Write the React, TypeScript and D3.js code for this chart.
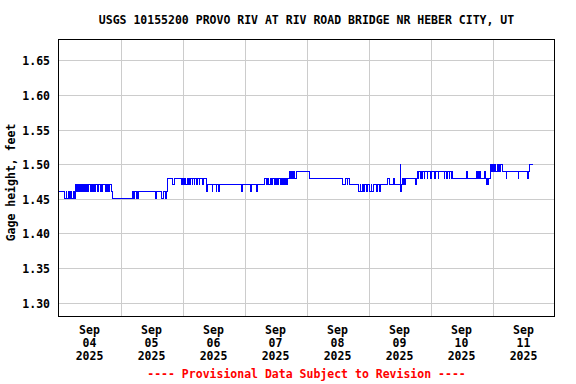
import * as d3 from 'd3'

const title = 'USGS 10155200 PROVO RIV AT RIV ROAD BRIDGE NR HEBER CITY, UT'
const yLabel = 'Gage height, feet'
const footer = '---- Provisional Data Subject to Revision ----'

const startTime = Date.UTC(2025, 8, 4, 0, 0)
const endTime = Date.UTC(2025, 8, 12, 0, 0)
const stepMinutes = 15

const yTicks = [1.3, 1.35, 1.4, 1.45, 1.5, 1.55, 1.6, 1.65]
const xTickDays = ['04', '05', '06', '07', '08', '09', '10', '11']

// gage height as [feet, count of 15-minute readings]
const runsSep04 = [
  [1.46, 9],
  [1.45, 3], [1.46, 1], [1.45, 2], [1.46, 2], [1.45, 2], [1.46, 1], [1.45, 3], [1.46, 1], [1.45, 3],
  [1.47, 1], [1.46, 1], [1.47, 1], [1.46, 1], [1.47, 1], [1.46, 1], [1.47, 1], [1.46, 1], [1.47, 1], [1.46, 1],
  [1.47, 1], [1.46, 1], [1.47, 1], [1.46, 1], [1.47, 1], [1.46, 1], [1.47, 1], [1.46, 1], [1.47, 1], [1.46, 1],
  [1.47, 3], [1.46, 1], [1.47, 2], [1.46, 1], [1.47, 1], [1.46, 2], [1.47, 4], [1.46, 1], [1.47, 3], [1.46, 1],
  [1.47, 1], [1.46, 1], [1.47, 4], [1.46, 1], [1.47, 1], [1.46, 2], [1.47, 2], [1.46, 1], [1.47, 3], [1.46, 1],
  [1.45, 32],
  [1.46, 1], [1.45, 2], [1.46, 2], [1.45, 1], [1.46, 1], [1.45, 2], [1.46, 2],
  [1.46, 24], [1.45, 1], [1.46, 9], [1.45, 2], [1.46, 4], [1.45, 1], [1.46, 2],
]

const runsSep05 = [
  [1.48, 7], [1.47, 3], [1.48, 12],
  [1.47, 1], [1.48, 2], [1.47, 1], [1.48, 2], [1.47, 2], [1.48, 2], [1.47, 1], [1.48, 1], [1.47, 2], [1.48, 2],
  [1.47, 1], [1.48, 2], [1.47, 1], [1.48, 2], [1.47, 2], [1.48, 3], [1.47, 1], [1.48, 4], [1.47, 1], [1.48, 5],
  [1.46, 2], [1.47, 7], [1.46, 1], [1.47, 5], [1.46, 1], [1.47, 3], [1.46, 2], [1.47, 34],
  [1.46, 1], [1.47, 13], [1.46, 1], [1.47, 8], [1.46, 1], [1.47, 11],
]

const runsSep07 = [
  [1.48, 3], [1.47, 2], [1.48, 1], [1.47, 3], [1.48, 2], [1.47, 1], [1.48, 3], [1.47, 1], [1.48, 1], [1.47, 1],
  [1.48, 2], [1.47, 2], [1.48, 2], [1.47, 1], [1.48, 2], [1.47, 1], [1.48, 2], [1.47, 1], [1.48, 1], [1.47, 2],
  [1.48, 1], [1.47, 1], [1.48, 2],
  [1.49, 2], [1.48, 1], [1.49, 2], [1.48, 2], [1.49, 1], [1.48, 3], [1.49, 1],
  [1.49, 19],
  [1.48, 51],
  [1.47, 6], [1.48, 2], [1.47, 1], [1.48, 3], [1.47, 14],
]

const runsSep08 = [
  [1.46, 2], [1.47, 1], [1.46, 2], [1.47, 3], [1.46, 1], [1.47, 3], [1.46, 1], [1.47, 4], [1.46, 2], [1.47, 1], [1.46, 2],
  [1.47, 6], [1.46, 1], [1.47, 3], [1.46, 1], [1.47, 11], [1.48, 3], [1.47, 7], [1.48, 2], [1.47, 8],
  [1.5, 1], [1.46, 1], [1.47, 2], [1.48, 1], [1.47, 1], [1.48, 2], [1.47, 1], [1.48, 1],
  [1.48, 14], [1.47, 2], [1.48, 1],
]

const runsSep09 = [
  [1.49, 1], [1.48, 1], [1.49, 2], [1.48, 2], [1.49, 1], [1.48, 1], [1.49, 2], [1.48, 1],
  [1.49, 4], [1.48, 1], [1.49, 4], [1.48, 1], [1.49, 5], [1.48, 1], [1.49, 5], [1.48, 1], [1.49, 8],
  [1.48, 1], [1.49, 3], [1.48, 1], [1.49, 3], [1.48, 1], [1.49, 2], [1.48, 1], [1.49, 1],
  [1.48, 22], [1.49, 2], [1.48, 13], [1.49, 2], [1.48, 1], [1.49, 1], [1.48, 1], [1.49, 2], [1.48, 1],
  [1.48, 5], [1.49, 1], [1.48, 1], [1.47, 1], [1.48, 1], [1.47, 2], [1.48, 2], [1.48, 1],
  [1.5, 1], [1.49, 1], [1.5, 1], [1.49, 1], [1.5, 2], [1.49, 1], [1.5, 1], [1.49, 2], [1.5, 3], [1.49, 1],
  [1.5, 1], [1.49, 1], [1.5, 3],
  [1.49, 5], [1.48, 1], [1.49, 18], [1.48, 1], [1.49, 13], [1.48, 1], [1.49, 2],
  [1.5, 6],
]

type Pt = { t: Date; v: number }

function expand(): Pt[] {
  const out: Pt[] = []
  let i = 0
  for (const [v, n] of [...runsSep04, ...runsSep05, ...runsSep07, ...runsSep08, ...runsSep09]) {
    for (let k = 0; k < n; k++) {
      out.push({ t: new Date(startTime + i * stepMinutes * 60000), v })
      i++
    }
  }
  // hold the last reading for one interval so it shows
  out.push({ t: new Date(startTime + i * stepMinutes * 60000), v: out[out.length - 1].v })
  return out
}

const W = 576
const H = 384
const margin = { top: 39.5, right: 21.5, bottom: 67.5, left: 58.5 }
const font = "'DejaVu Sans Mono', 'Liberation Mono', monospace"

export default function App() {
  const data = expand()
  const x = d3.scaleUtc().domain([new Date(startTime), new Date(endTime)]).range([margin.left, W - margin.right])
  const y = d3.scaleLinear().domain([1.28, 1.68]).range([H - margin.bottom, margin.top])
  const line = d3
    .line<Pt>()
    .x((d) => x(d.t))
    .y((d) => y(d.v))
    .curve(d3.curveStepAfter)

  const days = d3.utcDay.range(new Date(startTime), new Date(endTime))
  const midX = (margin.left + W - margin.right) / 2
  const fmt = d3.format('.2f')

  return (
    <svg
      width={W}
      height={H}
      style={{ position: 'absolute', left: 0, top: 0, background: '#fff' }}
      fontFamily={font}
      fontWeight="bold"
      fontSize={11.5}
    >
      <rect width={W} height={H} fill="#fff" />
      <text x={midX} y={24} textAnchor="middle" fill="#000">
        {title}
      </text>

      {/* grid */}
      {yTicks.map((v) => (
        <line
          key={v}
          x1={margin.left}
          x2={W - margin.right}
          y1={Math.round(y(v)) + 0.5}
          y2={Math.round(y(v)) + 0.5}
          stroke="#cccccc"
        />
      ))}
      {days.slice(1).map((d) => (
        <line
          key={+d}
          x1={Math.round(x(d)) + 0.5}
          x2={Math.round(x(d)) + 0.5}
          y1={margin.top}
          y2={H - margin.bottom}
          stroke="#cccccc"
        />
      ))}

      <path d={line(data) ?? ''} fill="none" stroke="#0000ff" strokeWidth={1} shapeRendering="crispEdges" />

      <rect
        x={margin.left}
        y={margin.top}
        width={W - margin.right - margin.left}
        height={H - margin.bottom - margin.top}
        fill="none"
        stroke="#000"
      />

      {yTicks.map((v) => (
        <text key={v} x={50} y={Math.round(y(v)) + 4.5} textAnchor="end" fill="#000">
          {fmt(v)}
        </text>
      ))}
      <text transform={`translate(15,182.5) rotate(-90)`} textAnchor="middle" fill="#000">
        {yLabel}
      </text>

      {days.map((d, i) => {
        const cx = x(d3.utcHour.offset(d, 12))
        return (
          <text key={+d} x={cx} textAnchor="middle" fill="#000">
            <tspan x={cx} y={334}>
              {d3.utcFormat('%b')(d)}
            </tspan>
            <tspan x={cx} y={347}>
              {xTickDays[i]}
            </tspan>
            <tspan x={cx} y={360}>
              {d3.utcFormat('%Y')(d)}
            </tspan>
          </text>
        )
      })}

      <text x={midX} y={378} textAnchor="middle" fill="#ff0000">
        {footer}
      </text>
    </svg>
  )
}
